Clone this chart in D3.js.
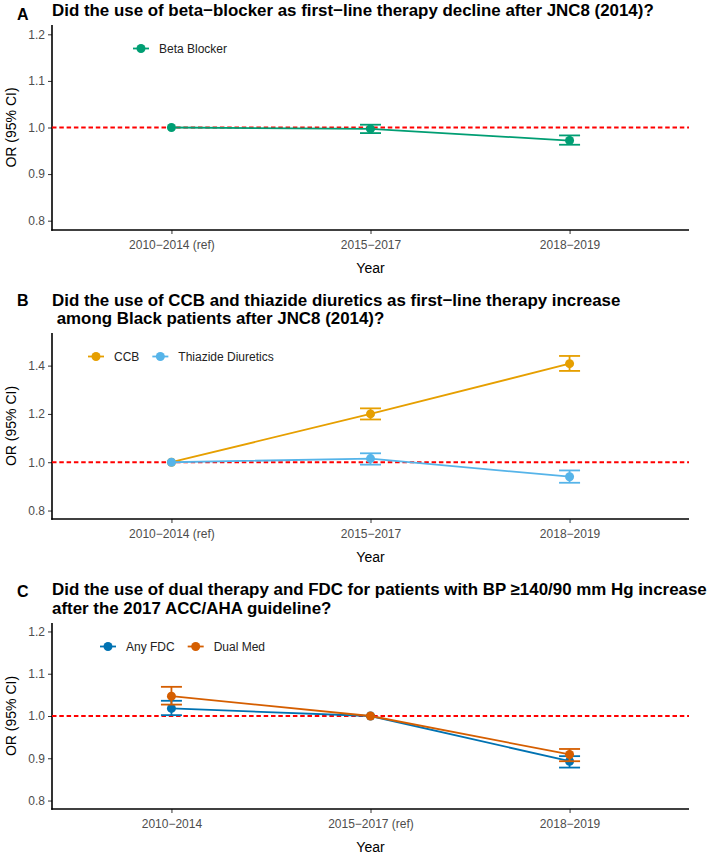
<!DOCTYPE html>
<html>
<head>
<meta charset="utf-8">
<script src="https://cdn.jsdelivr.net/npm/d3@7"></script>
<style>
  body { margin: 0; background: #fff; }
  svg text { font-family: "Liberation Sans", Arial, sans-serif; }
</style>
</head>
<body>
<svg id="vis"></svg>
<script>
// periods on the x axis
const periodsRef2010 = ["2010−2014 (ref)", "2015−2017", "2018−2019"];
const periodsRef2015 = ["2010−2014", "2015−2017 (ref)", "2018−2019"];

// odds ratios with 95% CI (null = reference, no CI)
const betaOR = [1.0, 0.997, 0.972];
const betaLo = [null, 0.988, 0.963];
const betaHi = [null, 1.006, 0.983];

const ccbOR = [1.0, 1.200, 1.408];
const ccbLo = [null, 1.177, 1.378];
const ccbHi = [null, 1.223, 1.440];

const thiazideOR = [1.0, 1.015, 0.940];
const thiazideLo = [null, 0.990, 0.915];
const thiazideHi = [null, 1.037, 0.966];

const fdcOR = [1.018, 1.0, 0.893];
const fdcLo = [1.002, null, 0.878];
const fdcHi = [1.036, null, 0.905];

const dualOR = [1.047, 1.0, 0.909];
const dualLo = [1.027, null, 0.893];
const dualHi = [1.069, null, 0.922];

const ticksA = [0.8, 0.9, 1.0, 1.1, 1.2];
const ticksB = [0.8, 1.0, 1.2, 1.4];
const ticksC = [0.8, 0.9, 1.0, 1.1, 1.2];

const W = 709, H = 856;
const PLOT_LEFT = 52, PLOT_RIGHT = 689;

const svg = d3.select("#vis").attr("width", W).attr("height", H);

function series(name, color, or, lo, hi) {
    return {name: name, color: color, or: or, lo: lo, hi: hi};
}

function drawPanel(p) {
    const g = svg.append("g");

    // panel letter + title lines
    g.append("text")
        .attr("x", 17).attr("y", p.letterY)
        .attr("font-size", 16).attr("font-weight", "bold")
        .text(p.letter);
    p.title.forEach(function(line, i) {
        g.append("text")
            .attr("x", 52).attr("y", p.titleY[i])
            .attr("font-size", 16.9).attr("font-weight", "bold")
            .attr("xml:space", "preserve")
            .text(line);
    });

    // discrete x scale with ggplot-style 0.6 padding
    const x = d3.scalePoint()
        .domain(p.periods)
        .range([PLOT_LEFT, PLOT_RIGHT])
        .padding(0.6);

    const y = d3.scaleLinear()
        .domain(p.ylim)
        .range([p.bottom, p.top]);

    // y axis
    const yAxis = d3.axisLeft(y)
        .tickValues(p.yticks)
        .tickFormat(d3.format(".1f"))
        .tickSize(4)
        .tickPadding(3);
    const ya = g.append("g")
        .attr("transform", "translate(" + PLOT_LEFT + ",0)")
        .call(yAxis);
    ya.select(".domain").remove();
    ya.append("line")
        .attr("x1", 0).attr("x2", 0)
        .attr("y1", p.top).attr("y2", p.bottom + 0.8)
        .attr("stroke", "#000").attr("stroke-width", 1.6);
    ya.selectAll(".tick line").attr("stroke", "#333");
    ya.selectAll(".tick text")
        .attr("font-size", 12).attr("fill", "#4d4d4d")
        .attr("font-family", "Liberation Sans, Arial, sans-serif");

    // x axis
    const xAxis = d3.axisBottom(x).tickSize(4).tickPadding(6);
    const xa = g.append("g")
        .attr("transform", "translate(0," + p.bottom + ")")
        .call(xAxis);
    xa.select(".domain").remove();
    xa.append("line")
        .attr("x1", PLOT_LEFT - 0.8).attr("x2", PLOT_RIGHT)
        .attr("y1", 0).attr("y2", 0)
        .attr("stroke", "#000").attr("stroke-width", 1.6);
    xa.selectAll(".tick line").attr("stroke", "#333");
    xa.selectAll(".tick text")
        .attr("font-size", 12).attr("fill", "#4d4d4d")
        .attr("font-family", "Liberation Sans, Arial, sans-serif");

    // axis titles
    g.append("text")
        .attr("x", (PLOT_LEFT + PLOT_RIGHT) / 2)
        .attr("y", p.bottom + 43)
        .attr("text-anchor", "middle")
        .attr("font-size", 14)
        .text("Year");
    g.append("text")
        .attr("transform", "translate(16," + ((p.top + p.bottom) / 2) + ") rotate(-90)")
        .attr("text-anchor", "middle")
        .attr("font-size", 14)
        .text("OR (95% CI)");

    // reference line at OR = 1
    g.append("line")
        .attr("x1", PLOT_LEFT).attr("x2", PLOT_RIGHT)
        .attr("y1", y(1)).attr("y2", y(1))
        .attr("stroke", "#ff0000").attr("stroke-width", 2)
        .attr("stroke-dasharray", "4.5,2.8");

    const line = d3.line()
        .x(function(d) { return x(d.period); })
        .y(function(d) { return y(d.v); });

    p.series.forEach(function(s) {
        const pts = p.periods.map(function(per, i) {
            return {period: per, v: s.or[i], lo: s.lo[i], hi: s.hi[i]};
        });

        g.append("path")
            .attr("d", line(pts))
            .attr("fill", "none")
            .attr("stroke", s.color)
            .attr("stroke-width", 1.8);

        const withCI = pts.filter(function(d) { return d.lo !== null; });
        const eb = g.selectAll(null).data(withCI).enter().append("g")
            .attr("stroke", s.color).attr("stroke-width", 1.8);
        eb.append("line")
            .attr("x1", function(d) { return x(d.period); })
            .attr("x2", function(d) { return x(d.period); })
            .attr("y1", function(d) { return y(d.lo); })
            .attr("y2", function(d) { return y(d.hi); });
        eb.append("line")
            .attr("x1", function(d) { return x(d.period) - 10.5; })
            .attr("x2", function(d) { return x(d.period) + 10.5; })
            .attr("y1", function(d) { return y(d.lo); })
            .attr("y2", function(d) { return y(d.lo); });
        eb.append("line")
            .attr("x1", function(d) { return x(d.period) - 10.5; })
            .attr("x2", function(d) { return x(d.period) + 10.5; })
            .attr("y1", function(d) { return y(d.hi); })
            .attr("y2", function(d) { return y(d.hi); });

        g.selectAll(null).data(pts).enter().append("circle")
            .attr("cx", function(d) { return x(d.period); })
            .attr("cy", function(d) { return y(d.v); })
            .attr("r", 4.5)
            .attr("fill", s.color);
    });

    // legend inside the plot, top-left
    let lx = p.legendX;
    const ly = p.top + 23.5;
    p.series.forEach(function(s) {
        g.append("line")
            .attr("x1", lx - 8).attr("x2", lx + 8)
            .attr("y1", ly).attr("y2", ly)
            .attr("stroke", s.color).attr("stroke-width", 1.8);
        g.append("circle")
            .attr("cx", lx).attr("cy", ly).attr("r", 4.5)
            .attr("fill", s.color);
        const t = g.append("text")
            .attr("x", lx + 18).attr("y", ly + 4.3)
            .attr("font-size", 12).attr("fill", "#222")
            .text(s.name);
        lx += 18 + t.node().getComputedTextLength() + 21;
    });
}

drawPanel({
    letter: "A",
    letterY: 19.5,
    title: ["Did the use of beta−blocker as first−line therapy decline after JNC8 (2014)?"],
    titleY: [15.5],
    periods: periodsRef2010,
    top: 25, bottom: 230,
    ylim: [0.78, 1.22],
    yticks: ticksA,
    legendX: 141,
    series: [series("Beta Blocker", "#009E73", betaOR, betaLo, betaHi)]
});

drawPanel({
    letter: "B",
    letterY: 306,
    title: ["Did the use of CCB and thiazide diuretics as first−line therapy increase",
            " among Black patients after JNC8 (2014)?"],
    titleY: [305.5, 324],
    periods: periodsRef2010,
    top: 333, bottom: 519,
    ylim: [0.765, 1.535],
    yticks: ticksB,
    legendX: 96,
    series: [series("CCB", "#E69F00", ccbOR, ccbLo, ccbHi),
             series("Thiazide Diuretics", "#56B4E9", thiazideOR, thiazideLo, thiazideHi)]
});

drawPanel({
    letter: "C",
    letterY: 597,
    title: ["Did the use of dual therapy and FDC for patients with BP ≥140/90 mm Hg increase",
            "after the 2017 ACC/AHA guideline?"],
    titleY: [595, 614],
    periods: periodsRef2015,
    top: 623, bottom: 809,
    ylim: [0.78, 1.22],
    yticks: ticksC,
    legendX: 108,
    series: [series("Any FDC", "#0072B2", fdcOR, fdcLo, fdcHi),
             series("Dual Med", "#D55E00", dualOR, dualLo, dualHi)]
});
</script>
</body>
</html>
